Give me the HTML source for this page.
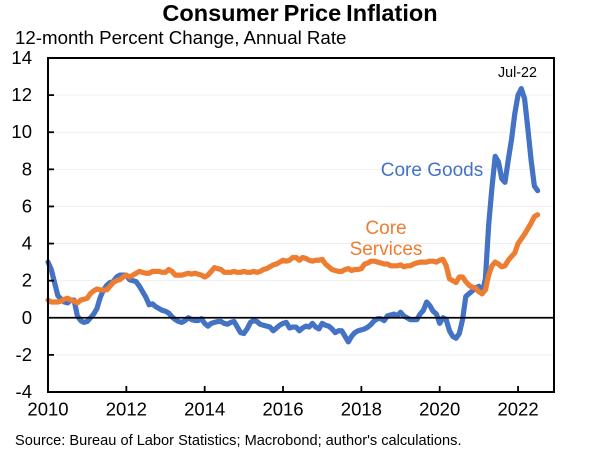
<!DOCTYPE html>
<html>
<head>
<meta charset="utf-8">
<title>Consumer Price Inflation</title>
<style>
html,body{margin:0;padding:0;background:#fff;}
svg{display:block;font-family:"Liberation Sans",Arial,sans-serif;}
</style>
</head>
<body>
<svg id="chart" width="600" height="450" viewBox="0 0 600 450">
<rect x="0" y="0" width="600" height="450" fill="#fff"/>
<text x="300" y="21" text-anchor="middle" font-size="23.5" font-weight="bold" word-spacing="-1.5" fill="#000">Consumer Price Inflation</text>
<text x="15" y="44" font-size="18.7" fill="#000">12-month Percent Change, Annual Rate</text>
<g id="grid"></g>
<g id="series"></g>
<g id="axes"></g>
<text x="517.5" y="77" text-anchor="middle" font-size="14.3" fill="#000">Jul-22</text>
<text x="432" y="176" text-anchor="middle" font-size="19" fill="#4472C4">Core Goods</text>
<text x="386" y="234" text-anchor="middle" font-size="19" fill="#ED7D31">Core</text>
<text x="386" y="255" text-anchor="middle" font-size="19" fill="#ED7D31">Services</text>
<text x="15" y="445" font-size="14.6" fill="#000">Source: Bureau of Labor Statistics; Macrobond; author's calculations.</text>
</svg>
<script>
const yTicks = [14, 12, 10, 8, 6, 4, 2, 0, -2, -4];
const xTicks = [2010, 2012, 2014, 2016, 2018, 2020, 2022];
const coreGoods = [
  3.0,2.6,1.9,1.2,1.0,0.85,0.8,0.95,0.95,0.1,-0.15,-0.25,
  -0.2,0.0,0.2,0.5,1.1,1.5,1.75,1.9,1.95,2.2,2.3,2.3,
  2.3,2.05,2.0,1.95,1.7,1.4,1.1,0.7,0.75,0.6,0.5,0.4,
  0.35,0.25,0.05,-0.1,-0.2,-0.25,-0.15,0.0,-0.1,-0.15,-0.15,-0.05,
  -0.3,-0.45,-0.3,-0.25,-0.2,-0.2,-0.3,-0.35,-0.25,-0.2,-0.5,-0.8,
  -0.85,-0.6,-0.25,-0.15,-0.2,-0.35,-0.4,-0.45,-0.5,-0.7,-0.55,-0.4,
  -0.3,-0.25,-0.55,-0.5,-0.5,-0.7,-0.55,-0.45,-0.5,-0.3,-0.5,-0.6,
  -0.3,-0.4,-0.45,-0.6,-0.8,-0.7,-0.7,-1.0,-1.3,-1.0,-0.8,-0.7,
  -0.65,-0.6,-0.5,-0.35,-0.15,-0.05,-0.05,-0.15,0.1,0.15,0.2,0.1,
  0.3,0.1,0.0,-0.1,-0.1,-0.1,0.2,0.4,0.85,0.65,0.35,0.2,
  -0.3,0.0,-0.1,-0.7,-1.0,-1.1,-0.85,-0.1,1.15,1.3,1.45,1.6,
  1.7,1.3,2.1,5.0,7.0,8.7,8.4,7.5,7.3,8.5,9.6,11.0,
  12.0,12.35,11.8,10.2,8.5,7.1,6.85
];
const coreServices = [
  0.95,0.85,0.85,0.85,0.9,1.0,1.05,0.95,0.9,0.8,0.95,1.0,
  1.05,1.3,1.45,1.55,1.5,1.5,1.5,1.7,1.9,2.0,2.05,2.2,
  2.3,2.2,2.3,2.4,2.5,2.45,2.4,2.4,2.5,2.5,2.5,2.45,
  2.45,2.6,2.5,2.3,2.3,2.3,2.35,2.4,2.35,2.4,2.35,2.3,
  2.2,2.3,2.5,2.7,2.65,2.6,2.45,2.45,2.45,2.5,2.45,2.45,
  2.5,2.45,2.45,2.5,2.45,2.5,2.6,2.65,2.75,2.85,2.9,3.0,
  3.1,3.05,3.1,3.25,3.25,3.1,3.25,3.2,3.1,3.05,3.1,3.1,
  3.15,2.9,2.75,2.6,2.55,2.5,2.5,2.6,2.65,2.55,2.6,2.6,
  2.65,2.9,2.95,3.05,3.05,3.0,2.95,2.9,2.9,2.8,2.8,2.8,
  2.85,2.75,2.8,2.8,2.9,2.95,3.0,3.0,3.0,3.05,3.05,3.0,
  3.1,3.15,2.8,2.1,2.0,1.9,2.2,2.2,1.95,1.75,1.65,1.6,
  1.4,1.3,1.5,2.3,2.8,3.0,2.9,2.75,2.8,3.1,3.3,3.5,
  4.0,4.25,4.5,4.8,5.1,5.45,5.55
];
const startYear = 2010;

const NS = 'http://www.w3.org/2000/svg';
const plotLeft = 48, plotRight = 554, plotTop = 58, plotBottom = 392;
const yMin = -4, yMax = 14;
const pxPerYear = 39.17;
function xScale(year) { return plotLeft + (year - startYear) * pxPerYear; }
function xMonth(i) { return xScale(startYear + i / 12); }
function yScale(v) { return plotBottom - (v - yMin) / (yMax - yMin) * (plotBottom - plotTop); }
function make(tag, attrs, parent) {
  const el = document.createElementNS(NS, tag);
  for (const k in attrs) el.setAttribute(k, attrs[k]);
  parent.appendChild(el);
  return el;
}
const grid = document.getElementById('grid');
const axes = document.getElementById('axes');
const seriesLayer = document.getElementById('series');

yTicks.forEach(function (t) {
  const y = yScale(t);
  if (t !== yMin && t !== yMax && t !== 0) {
    const g = make('line', {x1: plotLeft, x2: plotRight, y1: y, y2: y, stroke: '#efefef', 'stroke-width': 1}, grid);
    
    
    const tk = make('line', {x1: plotLeft, x2: plotLeft + 6, y1: y, y2: y, stroke: '#000', 'stroke-width': 1.8}, axes);
    
    
  }
  const lab = make('text', {x: 32, y: y + 6, 'text-anchor': 'end', 'font-size': 18.5, fill: '#000'}, axes);
  lab.textContent = String(t);
  
  
});

xTicks.forEach(function (t) {
  const x = xScale(t);
  if (t !== startYear) {
    const tk = make('line', {x1: x, x2: x, y1: plotBottom, y2: plotBottom - 6, stroke: '#000', 'stroke-width': 1.8}, axes);
    
    
  }
  const lab = make('text', {x: x, y: 415.5, 'text-anchor': 'middle', 'font-size': 18.5, fill: '#000'}, axes);
  lab.textContent = String(t);
  
  
});

function drawSeries(values, color, name) {
  const d = values.map(function (v, i) {
    return (i ? 'L' : 'M') + xMonth(i).toFixed(2) + ' ' + yScale(v).toFixed(2);
  }).join('');
  const p = make('path', {d: d, fill: 'none', stroke: color, 'stroke-width': 5.2, 'stroke-linejoin': 'round', 'stroke-linecap': 'round'}, seriesLayer);
  
  
}
drawSeries(coreGoods, '#4472C4', 'core-goods-line');
drawSeries(coreServices, '#ED7D31', 'core-services-line');

const zero = make('line', {x1: plotLeft, x2: plotRight, y1: yScale(0), y2: yScale(0), stroke: '#000', 'stroke-width': 1.8}, axes);


const frame = make('rect', {x: plotLeft, y: plotTop, width: plotRight - plotLeft, height: plotBottom - plotTop, fill: 'none', stroke: '#000', 'stroke-width': 2}, axes);


</script>
</body>
</html>
